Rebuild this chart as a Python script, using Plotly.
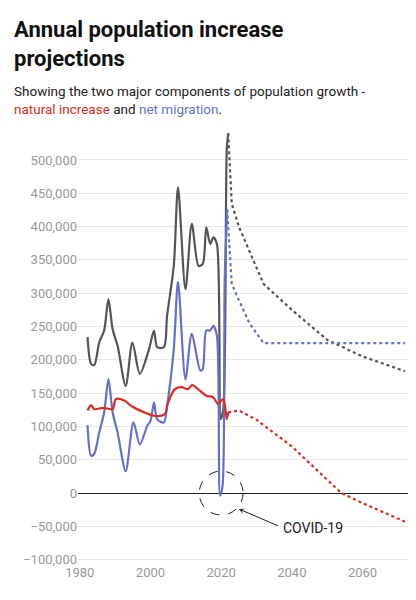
import plotly.graph_objects as go

# Historical series
total_years = [1982.2, 1983.2, 1984.1, 1985.5, 1986.9, 1988.1, 1989.3, 1990.7, 1993, 1994.9, 1997,
               1999.6, 2001, 2001.9, 2003.8, 2004.7, 2006.6, 2007.8, 2009.9, 2011.7, 2013.6, 2014.8,
               2015.8, 2016.9, 2017.8, 2018.8, 2019.9, 2020.6, 2021.6, 2022]
total_vals = [234000, 194000, 192000, 226000, 244000, 291000, 246000, 221000, 161000, 226000, 179000,
              216000, 244000, 219000, 219000, 266000, 341000, 459000, 306000, 404000, 341000, 344000,
              399000, 374000, 384000, 374000, 111000, 126000, 517000, 540000]

mig_years = [1982.2, 1983.2, 1984.1, 1985.5, 1986.9, 1988.1, 1989.3, 1990.7, 1993, 1995.2, 1997,
             1999.1, 2000, 2001, 2001.9, 2003.8, 2004.7, 2006.6, 2007.8, 2009.9, 2011.7, 2014.1,
             2014.8, 2015.8, 2016.9, 2017.8, 2018.8, 2019.7, 2020.4, 2021, 2021.7]
mig_vals = [102000, 56000, 59000, 91000, 121000, 171000, 121000, 91000, 33000, 106000, 73000,
            101000, 108000, 136000, 111000, 106000, 131000, 216000, 317000, 171000, 239000, 184000,
            186000, 244000, 244000, 251000, 236000, -4000, 11000, 317000, 426000]

nat_years = [1982.2, 1983.2, 1984.1, 1986.6, 1989.3, 1990.2, 1992.6, 1994.5, 1998.3, 2000.9, 2004,
             2005, 2006.9, 2008.8, 2010.6, 2011.8, 2013.9, 2015.8, 2017.7, 2019.1, 2020.6, 2021.6, 2022]
nat_vals = [124000, 132000, 126000, 128000, 126000, 141000, 139000, 131000, 121000, 116000, 118000,
            136000, 156000, 159000, 156000, 162000, 154000, 146000, 144000, 134000, 141000, 111000, 121000]

# Projections
proj_total_years = [2022, 2023, 2025, 2032, 2040, 2050, 2060, 2072]
proj_total_vals = [540000, 434000, 400000, 314000, 275000, 230000, 205000, 183000]
proj_mig_years = [2021.7, 2023, 2025, 2028, 2032, 2072]
proj_mig_vals = [426000, 314000, 290000, 255000, 225000, 225000]
proj_nat_years = [2022, 2025, 2030, 2040, 2050, 2054, 2060, 2072]
proj_nat_vals = [121000, 124000, 110000, 70000, 20000, 0, -15000, -43000]

GRAY = "#555555"
BLUE = "#6670cc"
RED = "#dd2a22"

fig = go.Figure()
for x, y, c in [(total_years, total_vals, GRAY), (mig_years, mig_vals, BLUE), (nat_years, nat_vals, RED)]:
    fig.add_trace(go.Scatter(x=x, y=y, mode="lines", line=dict(color=c, width=2.2, shape="spline", smoothing=0.8),
                             hoverinfo="x+y"))
for x, y, c in [(proj_total_years, proj_total_vals, GRAY), (proj_mig_years, proj_mig_vals, BLUE),
                (proj_nat_years, proj_nat_vals, RED)]:
    fig.add_trace(go.Scatter(x=x, y=y, mode="lines", line=dict(color=c, width=2.2, dash="dot")))

fig.add_shape(type="circle", x0=2013.8, x1=2026.2, y0=-33000, y1=33000,
              line=dict(color="#222", width=1, dash="dash"))
fig.add_annotation(x=2025, y=-24000, ax=2036.5, ay=-50000, axref="x", ayref="y",
                   text="", showarrow=True, arrowhead=3, arrowwidth=1, arrowcolor="#222")
fig.add_annotation(x=2037, y=-52000, text="COVID-19", showarrow=False, xanchor="left",
                   font=dict(size=14, color="#222"))

fig.add_annotation(x=0, y=1, xref="paper", yref="paper", xanchor="left", yanchor="top",
                   text="<b>Annual population increase<br>projections</b>", showarrow=False, align="left",
                   font=dict(size=22, color="#111"), xshift=-66, yshift=115)
fig.add_annotation(x=0, y=1, xref="paper", yref="paper", xanchor="left", yanchor="top",
                   text="Showing the two major components of population growth -<br>"
                        f"<span style='color:{RED}'>natural increase</span> and "
                        f"<span style='color:{BLUE}'>net migration</span>.",
                   showarrow=False, align="left", font=dict(size=13.5, color="#222"), xshift=-66, yshift=49)

fig.update_layout(
    width=416, height=600, showlegend=False,
    margin=dict(l=70, r=12, t=122, b=45),
    plot_bgcolor="white", paper_bgcolor="white",
    font=dict(family="Roboto, sans-serif"),
    xaxis=dict(range=[1979.5, 2074], tickvals=[1980, 2000, 2020, 2040, 2060], showgrid=False,
               zeroline=False, tickfont=dict(size=13, color="#999"), showline=False),
    yaxis=dict(range=[-105000, 545000], tickvals=list(range(-100000, 500001, 50000)), tickformat=",",
               gridcolor="#e8e8e8", zeroline=True, zerolinecolor="#222", zerolinewidth=1.2,
               tickfont=dict(size=13, color="#999")),
)

fig.write_html("out.html")
